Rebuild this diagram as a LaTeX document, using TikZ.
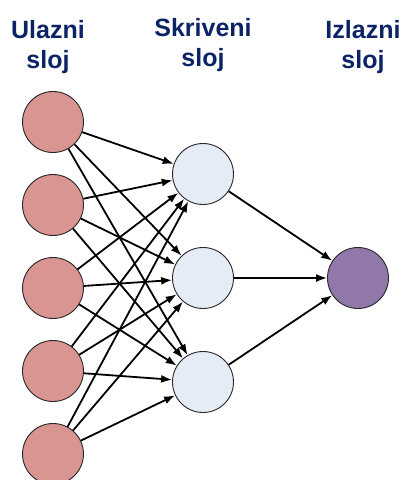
\documentclass[tikz,border=0pt]{standalone}
\usepackage{fontspec}
\setmainfont{Liberation Sans}
\usetikzlibrary{arrows.meta}
\definecolor{inred}{HTML}{D99592}
\definecolor{hidblue}{HTML}{E6ECF6}
\definecolor{outpurple}{HTML}{9079AA}
\definecolor{titlenavy}{HTML}{0C2366}

\begin{document}
\begin{tikzpicture}[x=1pt,y=-1pt,
   neuron/.style={circle,draw=black!85,line width=0.9pt,minimum size=61pt,inner sep=0pt},
   layertitle/.style={align=center,anchor=north,inner sep=0pt,text=titlenavy,
     font=\fontsize{25}{30}\selectfont\bfseries},
   conn/.style={-{Latex[length=11pt,width=8pt]},line width=1.8pt}]
   \useasboundingbox (0,0) rectangle (405,480);
   % layer titles
   \node[layertitle] (tin)  at (48,20.4)  {Ulazni\\sloj};
   \node[layertitle] (thid) at (203,18.5) {Skriveni\\sloj};
   \node[layertitle] (tout) at (363,20.4) {Izlazni\\sloj};
   % neurons
   \foreach \i in {1,...,5}
    \node[neuron,fill=inred] (in\i) at (53,{122+83*(\i-1)}) {};
   \foreach \j in {1,2,3}
    \node[neuron,fill=hidblue] (hid\j) at (203,{174+104*(\j-1)}) {};
   \node[neuron,fill=outpurple] (out) at (358,278) {};
   % connections
   \foreach \i in {1,...,5}
    \foreach \j in {1,2,3}
     \draw[conn] (in\i) -- (hid\j);
   \foreach \j in {1,2,3}
    \draw[conn] (hid\j) -- (out);
\end{tikzpicture}
\end{document}
